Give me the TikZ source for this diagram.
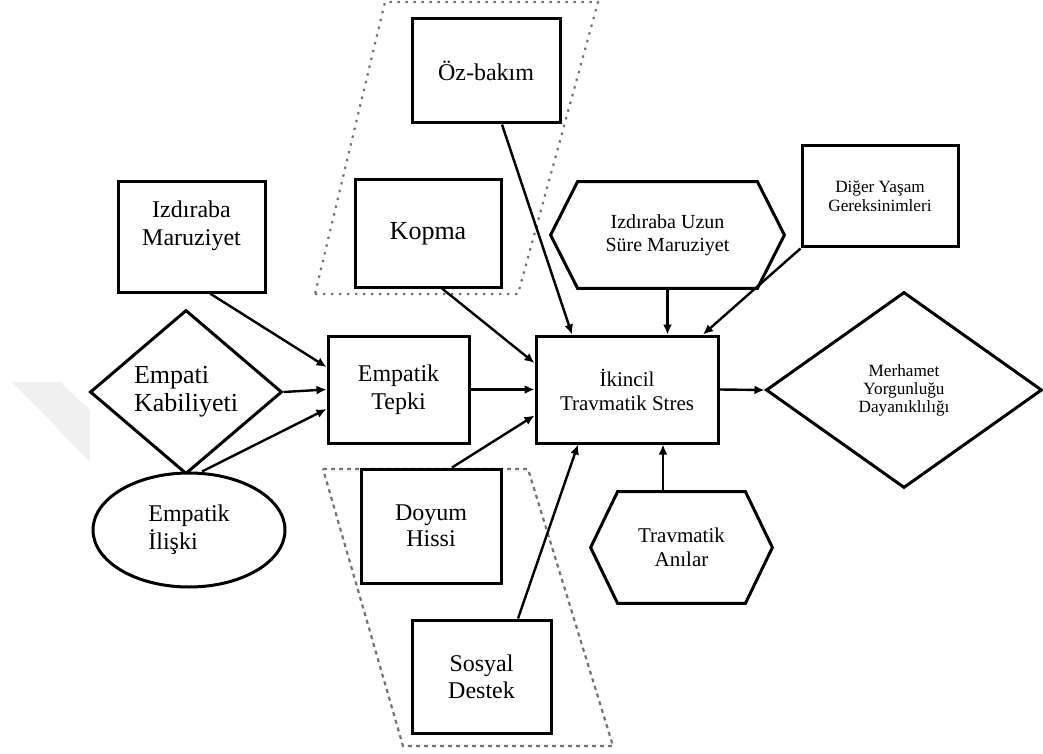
\documentclass[tikz,border=0pt]{standalone}
\usepackage{fontspec}
\setmainfont{Liberation Serif}
\usetikzlibrary{arrows.meta,shapes.geometric,calc}
\newcommand{\fsL}{\fontsize{13}{14}\selectfont}
\newcommand{\fsM}{\fontsize{12}{14}\selectfont}
\newcommand{\fsS}{\fontsize{10.5}{12}\selectfont}
\newcommand{\fsT}{\fontsize{8.6}{9.6}\selectfont}

\begin{document}
\begin{tikzpicture}[x=0.5pt,y=-0.5pt,
  shp/.style={draw,line width=1.5pt,fill=white,inner sep=0pt,align=center},
  kutu/.style={shp,rectangle},
  hexa/.style={inner sep=0pt,align=center},
  hexline/.style={draw,line width=1.5pt,line join=miter},
  grup/.style={draw=black!55,line width=1.1pt},
  ok/.style={-{Latex[length=5pt,width=4.5pt]},line width=1.2pt}]
\useasboundingbox (0,0) rectangle (1043,754);
\fill[black!6] (12,382) -- (60,382) -- (90,410) -- (90,462) -- cycle;
\draw[grup,dash pattern=on 1.2pt off 2.8pt] (315,294) -- (518,294) -- (598,2) -- (385,2) -- cycle;
\draw[grup,dash pattern=on 2pt off 2pt] (323,469) -- (528,469) -- (613,746) -- (403,746) -- cycle;

\node[kutu,minimum width=73.5pt,minimum height=55pt,font=\fsM] (maruz) at (191.5,237) {Izdıraba\\Maruziyet\\~};
\node[kutu,minimum width=74pt,minimum height=52pt,font=\fsM] (ozbakim) at (486,71) {Öz-bakım};
\node[kutu,minimum width=73pt,minimum height=53.5pt,font=\fsL] (kopma) at (428,233.5) {Kopma};
\node[shp,diamond,minimum width=96pt,minimum height=82pt,align=left,font=\fsL] (kabiliyet) at (186,392) {Empati\\Kabiliyeti};
\node[shp,ellipse,minimum width=96pt,minimum height=57pt,align=left,font=\fsM] (iliski) at (189,530) {Empatik\\İlişki};
\node[kutu,minimum width=70.5pt,minimum height=53.5pt,font=\fsM] (tepki) at (398.5,389.5) {Empatik\\Tepki};
\node[kutu,minimum width=91pt,minimum height=53.5pt,font=\fsS] (ikincil) at (627,389.5) {İkincil\\Travmatik Stres};
\node[hexa,minimum width=89.5pt,minimum height=53pt,font=\fontsize{10}{11.5}\selectfont] (uzun) at (667.5,235) {Izdıraba Uzun\\Süre Maruziyet};
\node[kutu,minimum width=78pt,minimum height=50.5pt,font=\fsT] (diger) at (880,196.5) {Diğer Yaşam\\Gereksinimleri};
\node[shp,diamond,minimum width=138pt,minimum height=98pt,font=\fontsize{8.6}{9}\selectfont] (merhamet) at (904,390) {Merhamet\\Yorgunluğu\\Dayanıklılığı};
\node[hexa,minimum width=63.5pt,minimum height=55.5pt,font=\fsS] (anilar) at (681.5,547.5) {Travmatik\\Anılar};
\node[kutu,minimum width=70pt,minimum height=57pt,font=\fontsize{12}{13}\selectfont] (doyum) at (431,526) {Doyum\\Hissi};
\node[kutu,minimum width=69.5pt,minimum height=56.5pt,font=\fontsize{12}{13.5}\selectfont] (sosyal) at (481.5,676.5) {Sosyal\\Destek};

\draw[hexline] ($(uzun.west)+(-27,0)$) -- (uzun.north west) -- (uzun.north east)
  -- ($(uzun.east)+(27,0)$) -- (uzun.south east) -- (uzun.south west) -- cycle;
\draw[hexline] ($(anilar.west)+(-27,0)$) -- (anilar.north west) -- (anilar.north east)
  -- ($(anilar.east)+(27,0)$) -- (anilar.south east) -- (anilar.south west) -- cycle;

\path[ok]
  ($(maruz.south)+(18.5,0)$) edge ($(tepki.west)+(0,-22.5)$)
  (kabiliyet.east) edge (tepki.west)
  ($(iliski.north)+(13,0)$) edge ($(tepki.west)+(0,19.5)$)
  (tepki.east) edge (ikincil.west)
  ($(kopma.south)+(14,0)$) edge ($(ikincil.west)+(0,-26.5)$)
  ($(ozbakim.south)+(16,0)$) edge ($(ikincil.north)+(-55,0)$)
  (uzun.south) edge (uzun.south |- ikincil.north)
  (diger.south west) edge ($(ikincil.north)+(76,0)$)
  ($(doyum.north)+(21,0)$) edge ($(ikincil.west)+(0,26)$)
  ($(sosyal.north)+(36.5,0)$) edge ($(ikincil.south)+(-49,0)$)
  ($(anilar.north)+(-18.5,0)$) edge ($(ikincil.south)+(36,0)$)
  (ikincil.east) edge (merhamet.west);
\end{tikzpicture}
\end{document}
